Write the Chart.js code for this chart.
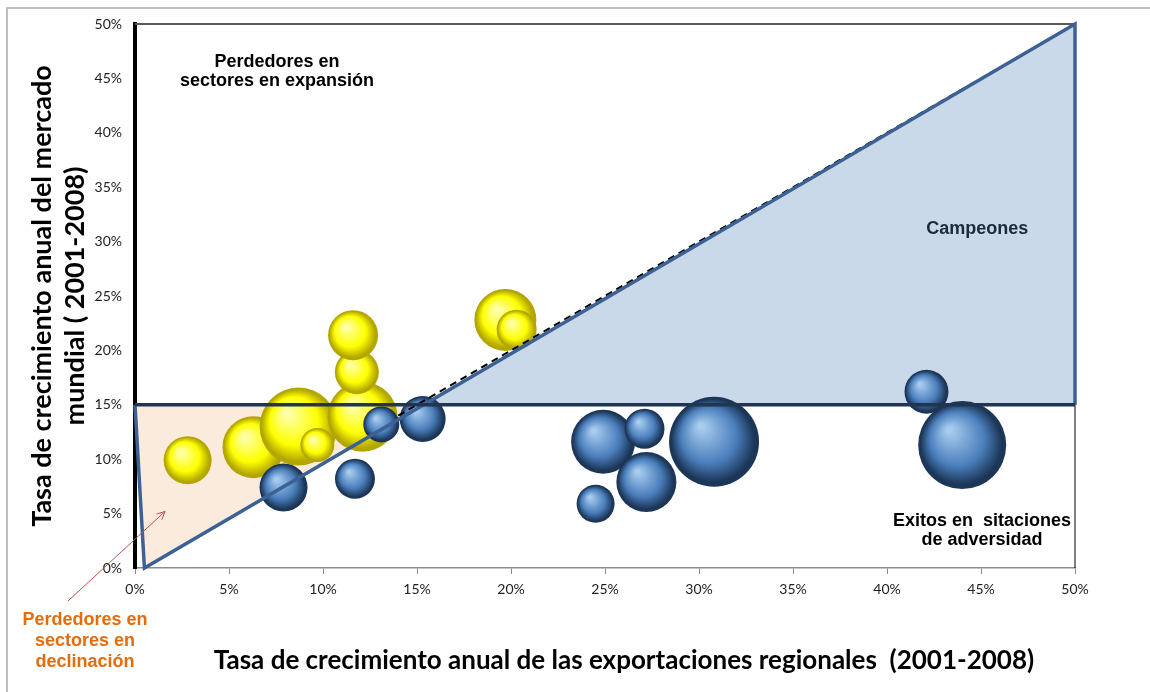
<!DOCTYPE html>
<html>
<head>
<meta charset="utf-8">
<script src="https://cdn.jsdelivr.net/npm/chart.js@4.4.1/dist/chart.umd.min.js"></script>
<style>
  html, body { margin: 0; padding: 0; background: #fff; }
</style>
</head>
<body>
<canvas id="myChart" width="1150" height="692"></canvas>
<script>
// sectors losing share (yellow) and gaining share (blue): x = export growth, y = world market growth, r = bubble size
const yellowX = [2.8, 6.3, 8.7, 9.7, 12.1, 11.8, 11.6, 19.7, 20.3];
const yellowY = [9.9, 11.1, 13.0, 11.3, 13.9, 18.0, 21.4, 22.8, 21.9];
const yellowR = [24, 31, 39, 17, 35, 22, 25, 31, 20];

const blueX = [7.9, 11.7, 13.1, 15.3, 24.9, 27.1, 27.2, 24.5, 30.8, 42.1, 44.0];
const blueY = [7.4, 8.2, 13.2, 13.7, 11.6, 12.8, 7.9, 5.9, 11.6, 16.2, 11.3];
const blueR = [24, 20, 18, 23, 32, 20, 30, 19, 45, 22, 44];

const tickValues = [0, 5, 10, 15, 20, 25, 30, 35, 40, 45, 50];

// quadrant shapes (in %)
const decliningZone = [{x: 0, y: 15}, {x: 0.5, y: 0}, {x: 15.35, y: 15}];
const championZone = [{x: 15.35, y: 15}, {x: 50, y: 50}, {x: 50, y: 15}];
const frontierLine = [{x: 0, y: 15}, {x: 0.5, y: 0}, {x: 50, y: 50}, {x: 50, y: 15}];
const averageLine = [{x: 0, y: 15}, {x: 50, y: 15}];
const diagonalLine = [{x: 14, y: 14}, {x: 50, y: 50}];

const toPoints = (xs, ys, rs) => xs.map((x, i) => ({x: x, y: ys[i], r: rs[i]}));

function sphere(base, light, dark) {
    return (ctx) => {
        const chart = ctx.chart;
        const p = ctx.raw;
        if (!p || !chart.scales.x || !chart.chartArea) return base;
        const cx = chart.scales.x.getPixelForValue(p.x);
        const cy = chart.scales.y.getPixelForValue(p.y);
        const r = p.r;
        if (!isFinite(cx) || !isFinite(cy)) return base;
        const g = chart.ctx.createRadialGradient(cx - r * 0.3, cy - r * 0.35, r * 0.05, cx, cy, r);
        g.addColorStop(0, light);
        g.addColorStop(0.6, base);
        g.addColorStop(0.92, dark);
        g.addColorStop(1, dark);
        return g;
    };
}

const labels = {
    id: 'labels',
    beforeDraw(chart) {
        const c = chart.ctx;
        c.save();
        c.fillStyle = '#fff';
        c.fillRect(0, 0, chart.width, chart.height);
        c.strokeStyle = '#bfbfbf';
        c.lineWidth = 2;
        c.strokeRect(7, 8, chart.width + 20, chart.height + 20);
        c.restore();
    },
    beforeDatasetsDraw(chart) {
        const c = chart.ctx, a = chart.chartArea;
        c.save();
        c.strokeStyle = '#595959';
        c.lineWidth = 2;
        c.beginPath(); c.moveTo(a.left, a.top); c.lineTo(a.right, a.top); c.stroke();
        c.strokeStyle = '#000';
        c.lineWidth = 1;
        c.beginPath(); c.moveTo(a.right, a.top); c.lineTo(a.right, a.bottom); c.stroke();
        c.restore();
    },
    afterDraw(chart) {
        const c = chart.ctx, x = chart.scales.x, y = chart.scales.y;
        c.save();
        c.textAlign = 'center';
        c.textBaseline = 'middle';
        c.font = 'bold 18px "Liberation Sans", Arial, sans-serif';
        c.fillStyle = '#000';
        c.fillText('Perdedores en', x.getPixelForValue(7.55), y.getPixelForValue(46.5));
        c.fillText('sectores en expansión', x.getPixelForValue(7.55), y.getPixelForValue(44.75));
        c.fillText('Exitos en  sitaciones', x.getPixelForValue(45.05), y.getPixelForValue(4.3));
        c.fillText('de adversidad', x.getPixelForValue(45.05), y.getPixelForValue(2.55));
        c.fillStyle = '#1b2a3c';
        c.fillText('Campeones', x.getPixelForValue(44.8), y.getPixelForValue(31.2));

        c.fillStyle = '#e46c0a';
        c.fillText('Perdedores en', 85, 620);
        c.fillText('sectores en', 85, 641);
        c.fillText('declinación', 85, 662);

        // arrow pointing into the declining zone
        const x0 = 68, y0 = 601;
        const x1 = x.getPixelForValue(1.6), y1 = y.getPixelForValue(5.2);
        const ang = Math.atan2(y1 - y0, x1 - x0);
        c.strokeStyle = '#c0504d';
        c.lineWidth = 1;
        c.beginPath(); c.moveTo(x0, y0); c.lineTo(x1, y1); c.stroke();
        c.beginPath();
        c.moveTo(x1 - 9 * Math.cos(ang - 0.45), y1 - 9 * Math.sin(ang - 0.45));
        c.lineTo(x1, y1);
        c.lineTo(x1 - 9 * Math.cos(ang + 0.45), y1 - 9 * Math.sin(ang + 0.45));
        c.stroke();
        c.restore();
    }
};

const ctx = document.getElementById('myChart');
const myChart = new Chart(ctx, {
    type: 'bubble',
    data: {
        datasets: [
            {
                label: 'Perdedores',
                data: toPoints(yellowX, yellowY, yellowR),
                backgroundColor: sphere('#ffff00', '#ffffb0', '#b3a600'),
                borderWidth: 0,
                order: 4
            },
            {
                label: 'Ganadores',
                data: toPoints(blueX, blueY, blueR),
                backgroundColor: sphere('#4a7ebb', '#a9cdf0', '#1c3658'),
                borderWidth: 0,
                order: 3
            },
            {
                type: 'line', label: 'decl', data: decliningZone,
                fill: 'shape', backgroundColor: '#fbebdd', borderWidth: 0,
                pointRadius: 0, tension: 0, order: 10
            },
            {
                type: 'line', label: 'camp', data: championZone,
                fill: 'shape', backgroundColor: '#c9d9e9', borderWidth: 0,
                pointRadius: 0, tension: 0, order: 9
            },
            {
                type: 'line', label: 'diag', data: diagonalLine,
                fill: false, borderColor: '#000', borderWidth: 2, borderDash: [7, 5],
                pointRadius: 0, tension: 0, order: 2
            },
            {
                type: 'line', label: 'frontier', data: frontierLine,
                fill: false, borderColor: '#3c6194', borderWidth: 3.5,
                pointRadius: 0, tension: 0, clip: false, order: 1
            },
            {
                type: 'line', label: 'avg', data: averageLine,
                fill: false, borderColor: '#1f3550', borderWidth: 3.5,
                pointRadius: 0, tension: 0, clip: false, order: 0
            }
        ]
    },
    options: {
        responsive: false,
        animation: false,
        events: [],
        layout: { autoPadding: false, padding: { top: 24, right: 75, left: 8, bottom: 0 } },
        plugins: {
            legend: { display: false },
            tooltip: { enabled: false }
        },
        scales: {
            x: {
                type: 'linear', min: 0, max: 50,
                afterBuildTicks: (s) => { s.ticks = tickValues.map(v => ({value: v})); },
                afterFit: (s) => { s.height = 124; },
                border: { color: '#8c8c8c', width: 1.5 },
                grid: { drawOnChartArea: false, color: '#8c8c8c', tickLength: 6 },
                ticks: {
                    callback: (v) => v + '%', padding: 7, color: '#222',
                    font: { family: 'Lato, "Open Sans", sans-serif', size: 14 }
                },
                title: {
                    display: true,
                    text: '      Tasa de crecimiento anual de las exportaciones regionales  (2001-2008)',
                    color: '#000',
                    font: { family: 'Lato, "Open Sans", sans-serif', size: 26, weight: 'bold' },
                    padding: { top: 0, bottom: 16 }
                }
            },
            y: {
                type: 'linear', min: 0, max: 50,
                afterBuildTicks: (s) => { s.ticks = tickValues.map(v => ({value: v})); },
                afterFit: (s) => { s.width = 127; },
                border: { color: '#000', width: 4 },
                grid: { drawOnChartArea: false, drawTicks: false },
                ticks: {
                    callback: (v) => v + '%', padding: 13, color: '#222',
                    font: { family: 'Lato, "Open Sans", sans-serif', size: 14 }
                },
                title: {
                    display: true,
                    text: ['Tasa de crecimiento anual del mercado', 'mundial ( 2001-2008)'],
                    color: '#000',
                    font: { family: 'Lato, "Open Sans", sans-serif', size: 27, weight: 'bold', lineHeight: 1.25 },
                    padding: { top: 17, bottom: 0 }
                }
            }
        }
    },
    plugins: [labels]
});
</script>
</body>
</html>
